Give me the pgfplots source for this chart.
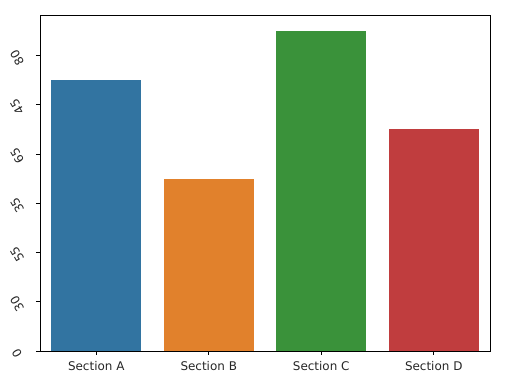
\documentclass[border=0pt]{standalone}
\usepackage{fontspec}
\setmainfont{DejaVu Sans}
\usepackage{pgfplots}
\pgfplotsset{compat=1.18}
\definecolor{cA}{HTML}{3274A1}
\definecolor{cB}{HTML}{E1812C}
\definecolor{cC}{HTML}{3A923A}
\definecolor{cD}{HTML}{C03D3E}
\begin{document}
\begin{tikzpicture}
\begin{axis}[
  scale only axis, width=450bp, height=336bp,
  xmin=-0.5, xmax=3.5, ymin=0, ymax=68.25,
  xtick={0,1,2,3}, xticklabels={Section A,Section B,Section C,Section D},
  ytick={0,10,20,30,40,50,60}, yticklabels={0,30,55,35,65,45,80},
  tick align=outside, major tick length=4bp, tick pos=left,
  axis line style={line width=0.8bp},
  tick style={black, line width=0.8bp},
  ticklabel style={font=\fontsize{12}{14}\selectfont, text=black!85},
  yticklabel style={xshift=-19bp, yshift=-2bp, anchor=center, rotate=120},
  xticklabel style={yshift=-3bp},
  bar width=0.8,
  ybar, bar shift=0pt,
]
\addplot[fill=cA, draw=none] coordinates {(0,55)};
\addplot[fill=cB, draw=none] coordinates {(1,35)};
\addplot[fill=cC, draw=none] coordinates {(2,65)};
\addplot[fill=cD, draw=none] coordinates {(3,45)};
\end{axis}
\pgfresetboundingbox
\path (-40bp,-32bp) rectangle (472bp,351bp);
\end{tikzpicture}
\end{document}
